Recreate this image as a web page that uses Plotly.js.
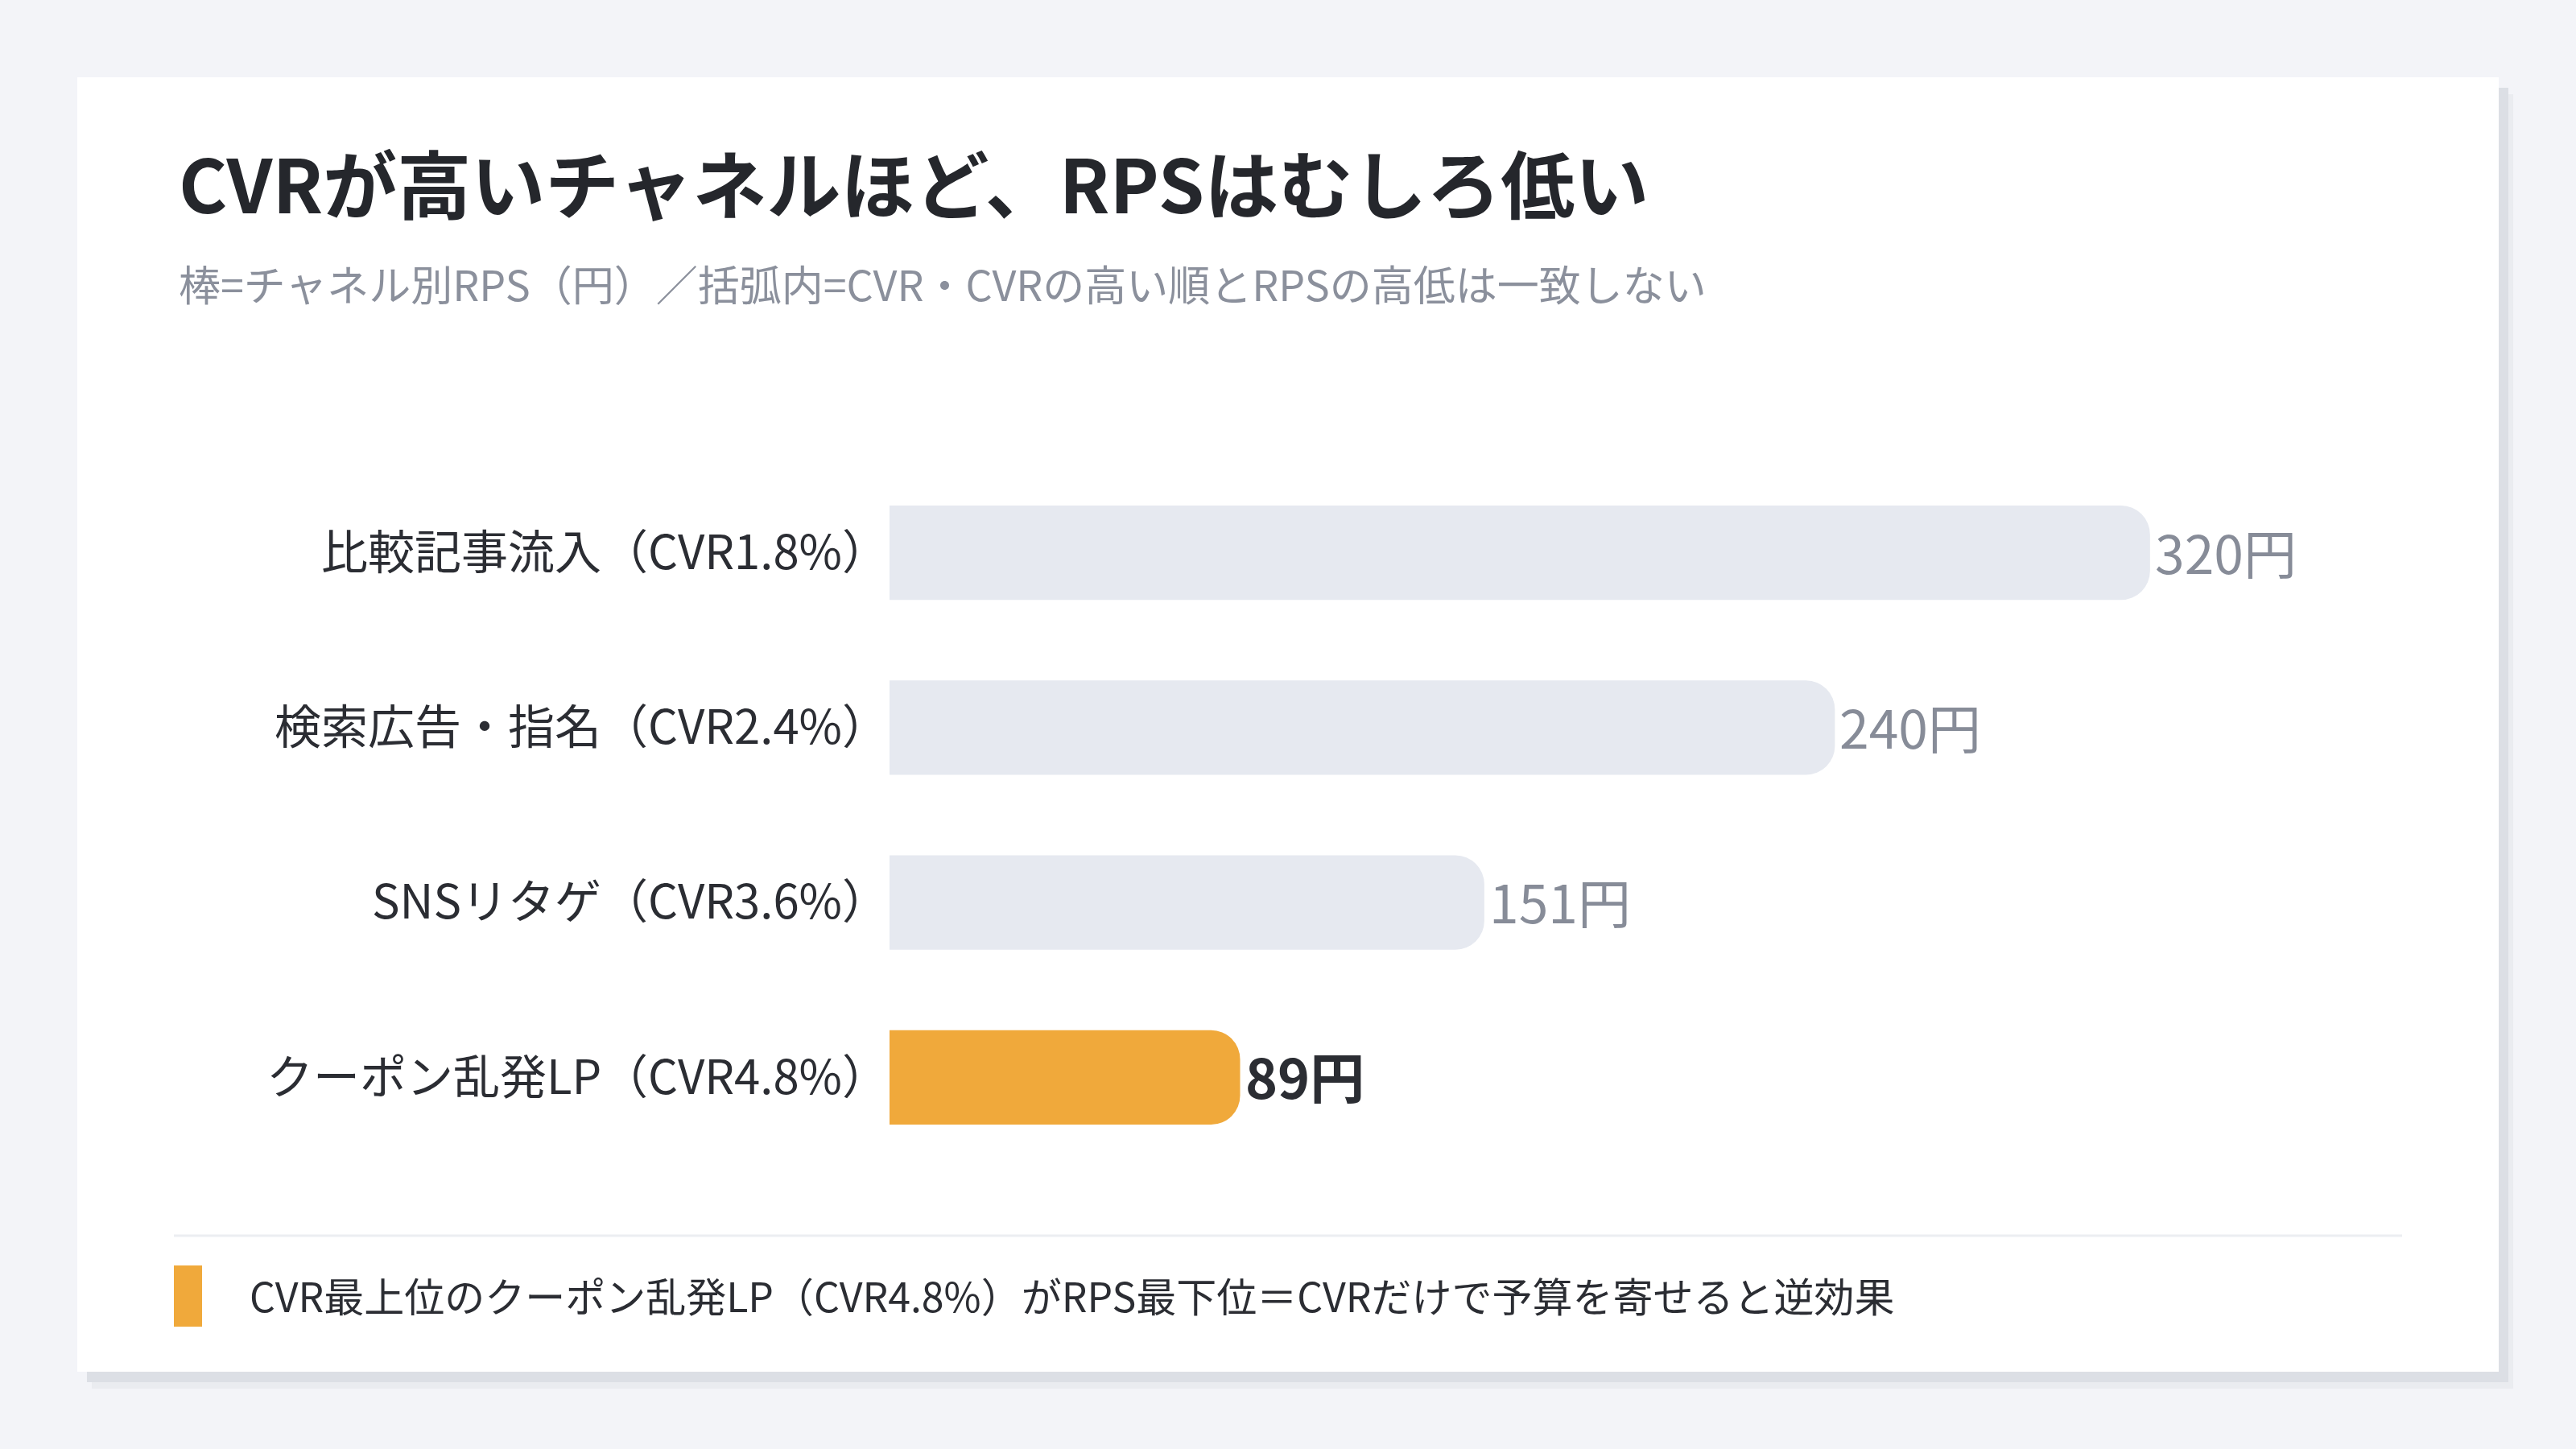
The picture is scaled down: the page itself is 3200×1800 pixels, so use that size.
<!DOCTYPE html>
<html lang="ja">
<head>
<meta charset="utf-8">
<title>CVRとRPS</title>
<script src="https://cdn.plot.ly/plotly-3.0.1.min.js"></script>
<style>
  html, body { margin: 0; padding: 0; background: #f3f4f8; }
  body { width: 3200px; height: 1800px; position: relative; overflow: hidden; }
  #card {
    position: absolute; left: 96px; top: 96px; width: 3008px; height: 1608px;
    background: #fff;
    box-shadow: 12px 13px 0 #dcdfe5, 18px 21px 0 #eaecf0;
  }
  #chart { width: 3008px; height: 1608px; }
</style>
</head>
<body>
<div id="card"><div id="chart"></div></div>
<script>
// データ
const channels = ['比較記事流入', '検索広告・指名', 'SNSリタゲ', 'クーポン乱発LP'];
const cvr = [1.8, 2.4, 3.6, 4.8];
const rps = [320, 240, 151, 89];

const titleText = 'CVRが高いチャネルほど、RPSはむしろ低い';
const subtitleText = '棒=チャネル別RPS（円）／括弧内=CVR・CVRの高い順とRPSの高低は一致しない';
const noteText = 'CVR最上位のクーポン乱発LP（CVR4.8%）がRPS最下位＝CVRだけで予算を寄せると逆効果';

// レイアウト寸法 (px)
const W = 3008, H = 1608;
const ML = 1009, MR = 120, MT = 482, MB = 257;
const PW = W - ML - MR, PH = H - MT - MB;
const px2x = px => (px - ML) / PW;
const py2y = py => 1 - (py - MT) / PH;

const FONT = '"Noto Sans CJK JP", "Noto Sans", sans-serif';
const DARK = '#2b2d33';
const GRAY_TEXT = '#878c98';
const GRAY_BAR = '#e6e9f0';
const ACCENT = '#f0a93b';

// CVR最上位のチャネルを強調
const topIdx = cvr.indexOf(Math.max(...cvr));
const labels = channels.map((c, i) => `${c}（CVR${cvr[i].toFixed(1)}%）`);
const barColors = rps.map((v, i) => i === topIdx ? ACCENT : GRAY_BAR);

const trace = {
    type: 'bar',
    orientation: 'h',
    x: rps,
    y: labels,
    marker: { color: barColors, cornerradius: 36, line: { width: 0 } },
    cliponaxis: false,
    hoverinfo: 'skip'
};

// 値ラベル（バー右端）
const valueLabels = rps.map((v, i) => ({
    text: i === topIdx ? `<b>${v}円</b>` : `${v}円`,
    xref: 'x', yref: 'y', x: v, y: labels[i],
    xanchor: 'left', yanchor: 'middle', xshift: 4, yshift: 3,
    showarrow: false,
    font: { family: FONT, size: i === topIdx ? 68 : 66, color: i === topIdx ? DARK : GRAY_TEXT }
}));

const layout = {
    width: W,
    height: H,
    margin: { l: ML, r: MR, t: MT, b: MB, pad: 0 },
    paper_bgcolor: '#ffffff',
    plot_bgcolor: '#ffffff',
    font: { family: FONT, color: DARK },
    showlegend: false,
    bargap: 0.46,
    xaxis: {
        range: [0, Math.max(...rps) * 1.2],
        showgrid: false, zeroline: false, showline: false,
        showticklabels: false, ticks: '', fixedrange: true
    },
    yaxis: {
        type: 'category',
        autorange: 'reversed',
        showgrid: false, zeroline: false, showline: false,
        ticks: '',
        ticklabelstandoff: 0,
        tickfont: { family: FONT, size: 58, color: DARK },
        fixedrange: true
    },
    shapes: [
        // 区切り線
        { type: 'line', xref: 'paper', yref: 'paper',
          x0: px2x(120), x1: px2x(2888), y0: py2y(1439), y1: py2y(1439),
          line: { color: '#eceef2', width: 3 } },
        // 注記のアクセント
        { type: 'rect', xref: 'paper', yref: 'paper',
          x0: px2x(120), x1: px2x(155), y0: py2y(1476), y1: py2y(1552),
          fillcolor: ACCENT, line: { width: 0 } }
    ],
    annotations: [
        { text: '<b>' + titleText + '</b>', xref: 'paper', yref: 'paper',
          x: px2x(124), y: py2y(129), xanchor: 'left', yanchor: 'middle',
          showarrow: false, font: { family: FONT, size: 92, color: '#25272c' } },
        { text: subtitleText, xref: 'paper', yref: 'paper',
          x: px2x(124), y: py2y(256), xanchor: 'left', yanchor: 'middle',
          showarrow: false, font: { family: FONT, size: 52, color: '#8b909c' } },
        { text: noteText, xref: 'paper', yref: 'paper',
          x: px2x(212), y: py2y(1512), xanchor: 'left', yanchor: 'middle',
          showarrow: false, font: { family: FONT, size: 50, color: DARK } }
    ].concat(valueLabels)
};

Plotly.newPlot('chart', [trace], layout, { displayModeBar: false, staticPlot: true });
</script>
</body>
</html>
